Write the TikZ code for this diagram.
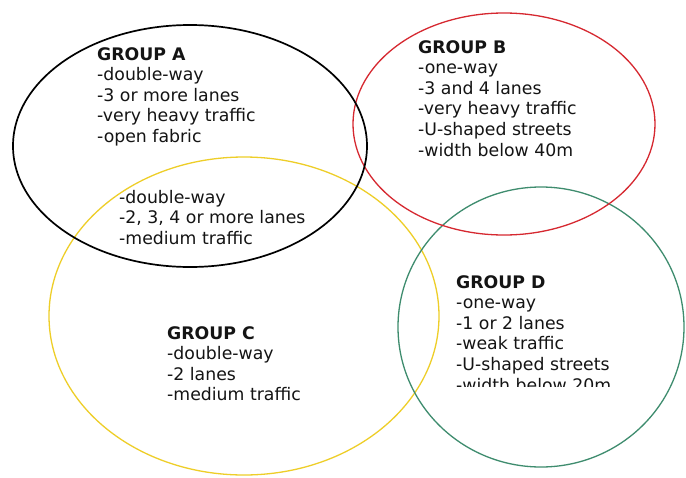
\documentclass[tikz,border=0pt]{standalone}
\usepackage{fontspec}
\setmainfont{DejaVu Sans}
\definecolor{grpred}{RGB}{214,40,48}
\definecolor{grpyellow}{RGB}{238,206,40}
\definecolor{grpgreen}{RGB}{62,140,110}
\definecolor{txtgray}{RGB}{20,20,20}
\tikzset{
  grouptext/.style={anchor=north west, align=left, inner sep=0pt, text=txtgray,
    font=\fontsize{17.3}{20.6}\selectfont},
}
\begin{document}
\begin{tikzpicture}[x=1pt, y=-1pt]
    \useasboundingbox[fill=white] (0,0) rectangle (686,477);
    \draw[line width=1.3pt, grpyellow] (244,316) ellipse (195 and 159);
    \draw[line width=1.3pt, grpgreen] (541,327) ellipse (143 and 140);
    \draw[line width=1.3pt, grpred] (504,124) ellipse (151 and 111);
    \draw[line width=1.7pt, black] (190,146) ellipse (177 and 121);
    \node[grouptext] (groupa) at (97,47) {\textbf{GROUP A}\\-double-way\\-3 or more lanes\\-very heavy traffic\\-open fabric};
    \node[grouptext] (groupac) at (119,190) {-double-way\\-2, 3, 4 or more lanes\\-medium traffic};
    \node[grouptext] (groupb) at (418,40) {\textbf{GROUP B}\\-one-way\\-3 and 4 lanes\\-very heavy traffic\\-U-shaped streets\\-width below 40m};
    \node[grouptext] (groupc) at (167,326) {\textbf{GROUP C}\\-double-way\\-2 lanes\\-medium traffic};
    % last line of D is cut off in the original
    \begin{scope}
      \clip (380,260) rectangle (686,386);
      \node[grouptext] (groupd) at (456,275) {\textbf{GROUP D}\\-one-way\\-1 or 2 lanes\\-weak traffic\\-U-shaped streets\\-width below 20m};
    \end{scope}
\end{tikzpicture}
\end{document}
